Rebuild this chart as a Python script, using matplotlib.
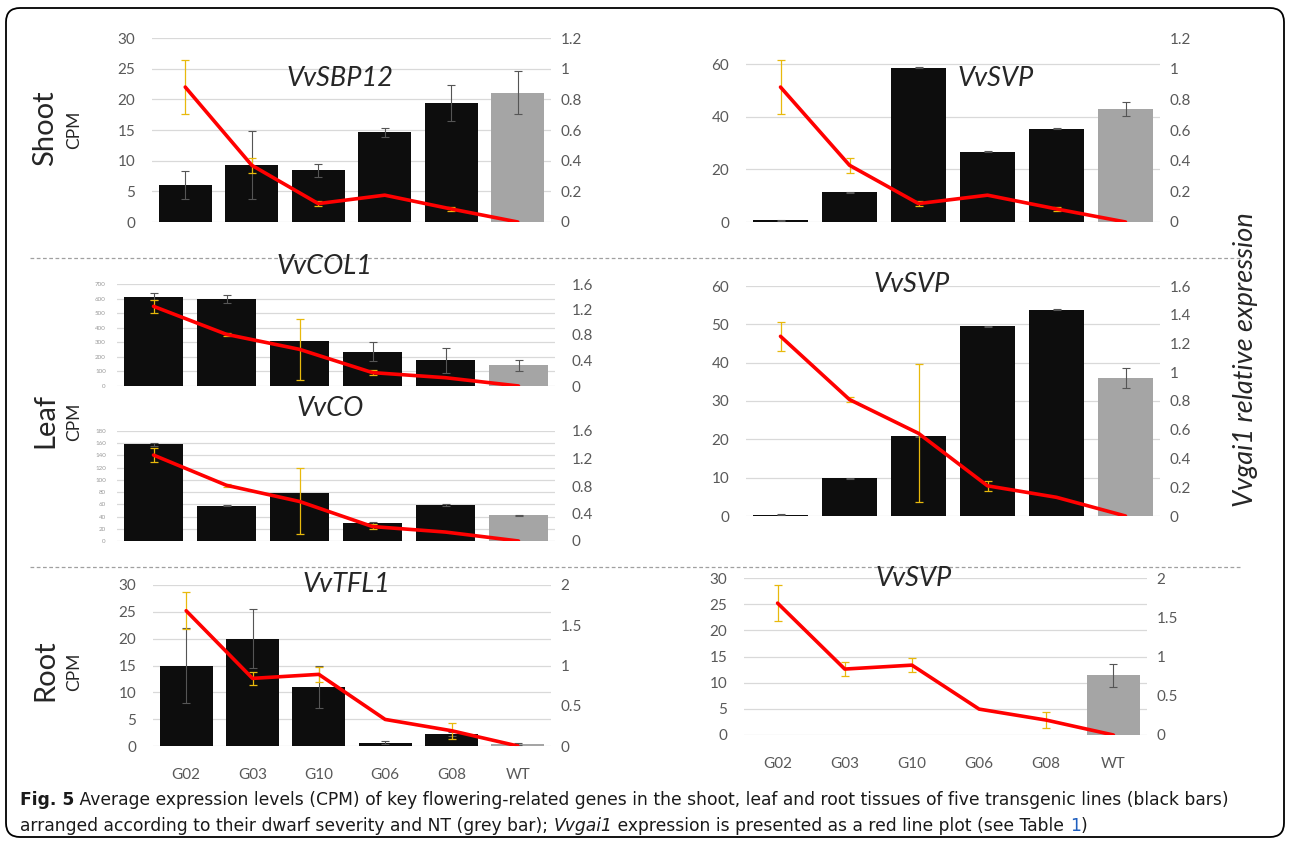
import numpy as np
import matplotlib.pyplot as plt
from matplotlib.patches import FancyBboxPatch
from matplotlib.ticker import FuncFormatter

W, H = 1290, 843

categories = ["G02", "G03", "G10", "G06", "G08", "WT"]

# shoot
shoot_sbp12 = [6.0, 9.3, 8.4, 14.6, 19.4, 21.1]
shoot_sbp12_err = [2.3, 5.5, 1.1, 0.8, 3.0, 3.5]
shoot_svp = [0.6, 11.3, 58.6, 26.8, 35.5, 43.0]
shoot_svp_err = [0.2, 0.2, 0.2, 0.2, 0.2, 2.5]
shoot_gai1 = [0.88, 0.37, 0.12, 0.175, 0.085, 0.0]
shoot_gai1_err = [0.175, 0.05, 0.015, 0.0, 0.015, 0.0]

# leaf
leaf_col1 = [612, 598, 308, 236, 176, 141]
leaf_col1_err = [25, 27, 0, 63, 85, 40]
leaf_co = [158, 58, 79, 29.5, 59, 42]
leaf_co_err = [2, 1, 0, 2, 1, 1]
leaf_svp = [0.3, 9.8, 20.8, 49.5, 53.8, 36.0]
leaf_svp_err = [0.1, 0.1, 0.1, 0.1, 0.1, 2.5]
leaf_gai1 = [1.25, 0.81, 0.575, 0.21, 0.13, 0.0]
leaf_gai1_err = [0.1, 0.02, 0.48, 0.035, 0.0, 0.0]

# root
root_tfl1 = [15.0, 20.0, 11.0, 0.6, 2.2, 0.3]
root_tfl1_err = [7.0, 5.5, 4.0, 0.3, 0.4, 0.2]
root_svp = [0, 0, 0, 0, 0, 11.4]
root_svp_err = [0, 0, 0, 0, 0, 2.2]
root_gai1 = [1.68, 0.84, 0.89, 0.33, 0.19, 0.0]
root_gai1_err = [0.23, 0.085, 0.09, 0.0, 0.1, 0.0]

plt.rcParams['font.family'] = ['Lato', 'DejaVu Sans']

fig = plt.figure(figsize=(W / 100, H / 100), dpi=100)

# background axes in pixel coordinates
bg = fig.add_axes([0, 0, 1, 1])
bg.set_xlim(0, W)
bg.set_ylim(H, 0)
bg.axis('off')

fmt = FuncFormatter(lambda v, p: f"{v:g}")


def panel(rect, bars, bars_err, line, line_err, ylim, yticks, ylim2, yticks2,
          lsize=11, lcolor='#595959', lpad=12, rpad=7, xlabels=False, xpad=14):
    x0, y0, x1, y1 = rect
    ax = fig.add_axes([x0 / W, 1 - y1 / H, (x1 - x0) / W, (y1 - y0) / H])
    ax.set_facecolor('none')
    x = np.arange(len(categories))
    colors = ['#0d0d0d'] * 5 + ['#a5a5a5']
    ax.bar(x, bars, width=0.8, color=colors, zorder=2)
    for xi, v, e in zip(x, bars, bars_err):
        if e > 0:
            ax.errorbar(xi, v, yerr=e, color='#555555', lw=0.8, capsize=3,
                        capthick=0.8, zorder=3)
    ax.set_xlim(-0.5, 5.5)
    ax.set_ylim(*ylim)
    ax.set_yticks(yticks)
    ax.yaxis.set_major_formatter(fmt)
    ax.yaxis.grid(True, color='#d9d9d9', lw=0.9)
    ax.set_axisbelow(True)
    for s in ax.spines.values():
        s.set_visible(False)
    ax.tick_params(axis='y', length=0, labelsize=lsize, labelcolor=lcolor, pad=lpad)
    if xlabels:
        ax.set_xticks(x)
        ax.set_xticklabels(categories)
        ax.tick_params(axis='x', length=0, labelsize=11, labelcolor='#595959', pad=xpad)
    else:
        ax.set_xticks([])

    ax2 = ax.twinx()
    ax2.set_facecolor('none')
    for xi, v, e in zip(x, line, line_err):
        if e > 0:
            ax2.errorbar(xi, v, yerr=e, color='#e8b90c', lw=0.9, capsize=3,
                         capthick=0.9, zorder=3)
    ax2.plot(x, line, color='#ff0000', lw=2.6, zorder=4, solid_capstyle='round')
    ax2.set_ylim(*ylim2)
    ax2.set_yticks(yticks2)
    ax2.yaxis.set_major_formatter(fmt)
    for s in ax2.spines.values():
        s.set_visible(False)
    ax2.tick_params(axis='y', length=0, labelsize=11, labelcolor='#595959', pad=rpad)
    return ax, ax2


# shoot
panel((152, 38, 551, 222), shoot_sbp12, shoot_sbp12_err, shoot_gai1, shoot_gai1_err,
      (0, 30), np.arange(0, 31, 5), (0, 1.2), np.arange(0, 1.21, 0.2))
panel((746, 38, 1160, 222), shoot_svp, shoot_svp_err, shoot_gai1, shoot_gai1_err,
      (0, 70), [0, 20, 40, 60], (0, 1.2), np.arange(0, 1.21, 0.2))

# leaf
panel((117, 284, 555, 386), leaf_col1, leaf_col1_err, leaf_gai1, leaf_gai1_err,
      (0, 700), np.arange(0, 701, 100), (0, 1.6), np.arange(0, 1.61, 0.4),
      lsize=4.5, lcolor='#9a9a9a', lpad=8, rpad=12)
panel((117, 431, 555, 541), leaf_co, leaf_co_err, leaf_gai1, leaf_gai1_err,
      (0, 180), np.arange(0, 181, 20), (0, 1.6), np.arange(0, 1.61, 0.4),
      lsize=4.5, lcolor='#9a9a9a', lpad=8, rpad=12)
panel((746, 286, 1160, 516), leaf_svp, leaf_svp_err, leaf_gai1, leaf_gai1_err,
      (0, 60), np.arange(0, 61, 10), (0, 1.6), np.arange(0, 1.61, 0.2))

# root
panel((153, 585, 551, 746), root_tfl1, root_tfl1_err, root_gai1, root_gai1_err,
      (0, 30), np.arange(0, 31, 5), (0, 2), np.arange(0, 2.01, 0.5),
      xlabels=True, xpad=16)
panel((744, 578, 1147, 735), root_svp, root_svp_err, root_gai1, root_gai1_err,
      (0, 30), np.arange(0, 31, 5), (0, 2), np.arange(0, 2.01, 0.5),
      xlabels=True, xpad=16)

# gene titles (drawn on top of the panels)
title_kw = dict(fontsize=19.5, style='italic', color='#262626', ha='center', va='center', zorder=10)
titles = [("VvSBP12", 340, 78), ("VvSVP", 996, 78), ("VvCOL1", 325, 267),
          ("VvCO", 330, 409), ("VvSVP", 912, 284), ("VvTFL1", 346, 585),
          ("VvSVP", 914, 578)]
for s, tx, ty in titles:
    fig.text(tx / W, 1 - ty / H, s, **title_kw)

# tissue labels
for label, yc in [("Shoot", 128), ("Leaf", 420), ("Root", 670)]:
    bg.text(45, yc, label, fontsize=21, rotation=90, ha='center', va='center', color='#262626')
    bg.text(74, yc + 2, "CPM", fontsize=12.5, rotation=90, ha='center', va='center', color='#262626')

bg.text(1245, 360, "Vvgai1 relative expression", fontsize=19.5, style='italic',
        rotation=90, ha='center', va='center', color='#262626')

# separators
bg.plot([30, 1240], [258, 258], color='#a0a0a0', lw=0.9, ls=(0, (3, 2)))
bg.plot([30, 1240], [567, 567], color='#a0a0a0', lw=0.9, ls=(0, (3, 2)))

# frame
bg.add_patch(FancyBboxPatch((6, 8), W - 12, H - 14, boxstyle='round,pad=0,rounding_size=14',
                            fill=False, ec='black', lw=1.3))

# caption
cap = ['Liberation Sans Narrow', 'DejaVu Sans']
renderer = fig.canvas.get_renderer()


def chain(x, y, parts):
    for s, kw in parts:
        t = bg.text(x, y, s, fontsize=12.3, family=cap, va='center', ha='left', **kw)
        x += t.get_window_extent(renderer=renderer).width


chain(20, 800, [("Fig. 5", dict(weight='bold', color='#1a1a1a')),
                (" Average expression levels (CPM) of key flowering-related genes in the shoot, leaf and root "
                 "tissues of five transgenic lines (black bars)", dict(color='#1a1a1a'))])
chain(20, 826, [("arranged according to their dwarf severity and NT (grey bar); ", dict(color='#1a1a1a')),
                ("Vvgai1", dict(style='italic', color='#1a1a1a')),
                (" expression is presented as a red line plot (see Table ", dict(color='#1a1a1a')),
                ("1", dict(color='#1f5fbf')),
                (")", dict(color='#1a1a1a'))])

fig.savefig("out.png", dpi=100)
